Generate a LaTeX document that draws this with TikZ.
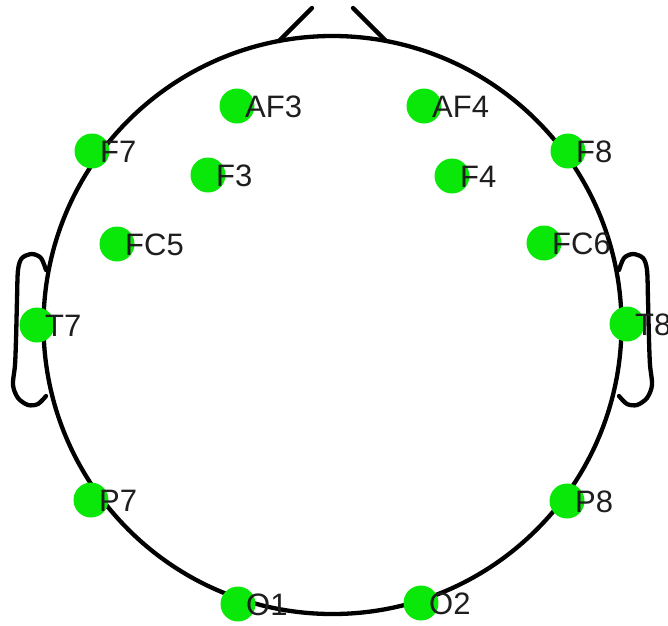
\documentclass[tikz,border=0pt]{standalone}
\usepackage{fontspec}
\setmainfont{Liberation Sans}
\definecolor{elgreen}{RGB}{10,232,10}
\definecolor{labcol}{RGB}{30,30,30}
\tikzset{
  headline/.style={line width=4.3pt, draw=black, line join=round, line cap=round},
  electrode/.style={circle, fill=elgreen, minimum size=35pt, inner sep=0pt, draw=none},
  elabel/.style={anchor=base west, inner sep=0pt, text=labcol, font=\fontsize{31}{37}\selectfont},
}
\begin{document}
\begin{tikzpicture}[x=1pt,y=-1pt]
\useasboundingbox (0,0) rectangle (668,625);
\coordinate (c) at (332.5,325);
% head
\draw[headline] (c) circle[radius=289];
% nose
\coordinate (nl0) at (279,41);
\coordinate (nl1) at (312,8);
\coordinate (nr0) at (386,41);
\coordinate (nr1) at (353,8);
\draw[headline] (nl0) -- (nl1);
\draw[headline] (nr0) -- (nr1);
% ears
\draw[headline] plot[smooth] coordinates {(46,270) (41,258) (32,254) (22,258) (18,270) (17,300) (16,340) (15,365) (13,385) (18,398) (28,405) (38,404) (46,396)};
\draw[headline] plot[smooth] coordinates {(619,270) (624,258) (633,254) (643,258) (647,270) (648,300) (649,340) (650,365) (652,385) (647,398) (637,405) (627,404) (619,396)};
% electrodes
\foreach \nm/\x/\y in {AF3/237/106, AF4/424/106, F7/92/151, F8/568/151, F3/208/175, F4/452/176, FC5/117/244, FC6/544/243, T7/37/325, T8/627/324, P7/91/500, P8/567/501, O1/238/604, O2/421/603}{
  \node[electrode] (e\nm) at (\x,\y) {};
}
\foreach \nm/\x/\y in {AF3/237/106, AF4/424/106, F7/92/151, F8/568/151, F3/208/175, F4/452/176, FC5/117/244, FC6/544/243, T7/37/325, T8/627/324, P7/91/500, P8/567/501, O1/238/604, O2/421/603}{
  \node[elabel] (l\nm) at ([shift={(8,11)}]e\nm.center) {\nm};
}
\end{tikzpicture}
\end{document}
